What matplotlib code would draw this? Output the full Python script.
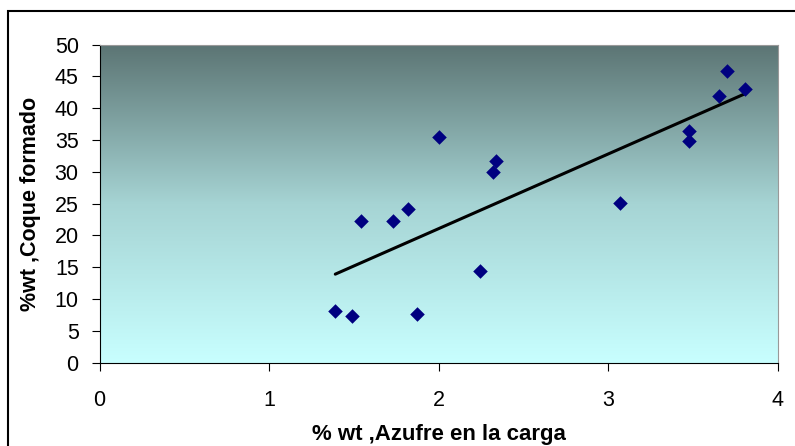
import numpy as np
import matplotlib
matplotlib.use('Agg')
from matplotlib import pyplot as plt
from matplotlib.colors import LinearSegmentedColormap
from matplotlib.patches import Rectangle

# %% data
azufre = [1.39, 1.49, 1.54, 1.73, 1.82, 1.87, 2.00, 2.245, 2.32, 2.34,
          3.067, 3.478, 3.478, 3.654, 3.698, 3.804]
coque = [8.1, 7.3, 22.2, 22.2, 24.1, 7.6, 35.4, 14.4, 29.95, 31.7,
         25.1, 36.35, 34.9, 41.9, 45.8, 42.95]
xticks = [0, 1, 2, 3, 4]
yticks = list(range(0, 51, 5))

# %% figure
plt.rcParams['font.family'] = ['Liberation Sans', 'DejaVu Sans']
fig = plt.figure(figsize=(7.95, 4.46), dpi=100)
ax = fig.add_axes([0.1252, 0.1872, 0.8534, 0.713])

# outer chart border
fig.patches.append(Rectangle((8 / 795, -0.1), 1.2, 1 - 11 / 446 + 0.1,
                             transform=fig.transFigure, fill=False,
                             edgecolor='black', lw=1.5, zorder=0))

# gradient background
cmap = LinearSegmentedColormap.from_list('bg', ['#c8ffff', '#a6d4d4', '#5c7574'])
grad = np.linspace(0, 1, 256).reshape(-1, 1)
ax.imshow(grad, extent=[0, 4, 0, 50], origin='lower', aspect='auto',
          cmap=cmap, zorder=0)

ax.scatter(azufre, coque, marker='D', s=55, color='#000080', zorder=3,
           linewidths=0)

# linear trendline
x = np.array(azufre)
p = np.polyfit(x, coque, 1)
xs = np.array([x.min(), x.max()])
ax.plot(xs, np.polyval(p, xs), color='black', lw=2.2, zorder=2,
        solid_capstyle='round')

ax.set_xlim(0, 4)
ax.set_ylim(0, 50)
ax.set_xticks(xticks)
ax.set_yticks(yticks)
ax.tick_params(axis='both', labelsize=15.5, direction='out', color='black')
ax.tick_params(axis='x', length=6, pad=14)
ax.tick_params(axis='y', length=6, pad=9)
for s in ['top', 'right']:
    ax.spines[s].set_color('#999999')
for s in ['left', 'bottom']:
    ax.spines[s].set_color('black')

ax.set_xlabel('% wt ,Azufre en la carga', fontsize=16, fontweight='bold', labelpad=9)
ax.set_ylabel('%wt ,Coque formado', fontsize=15.5, fontweight='bold', labelpad=10)

fig.savefig('out.png', dpi=100)
